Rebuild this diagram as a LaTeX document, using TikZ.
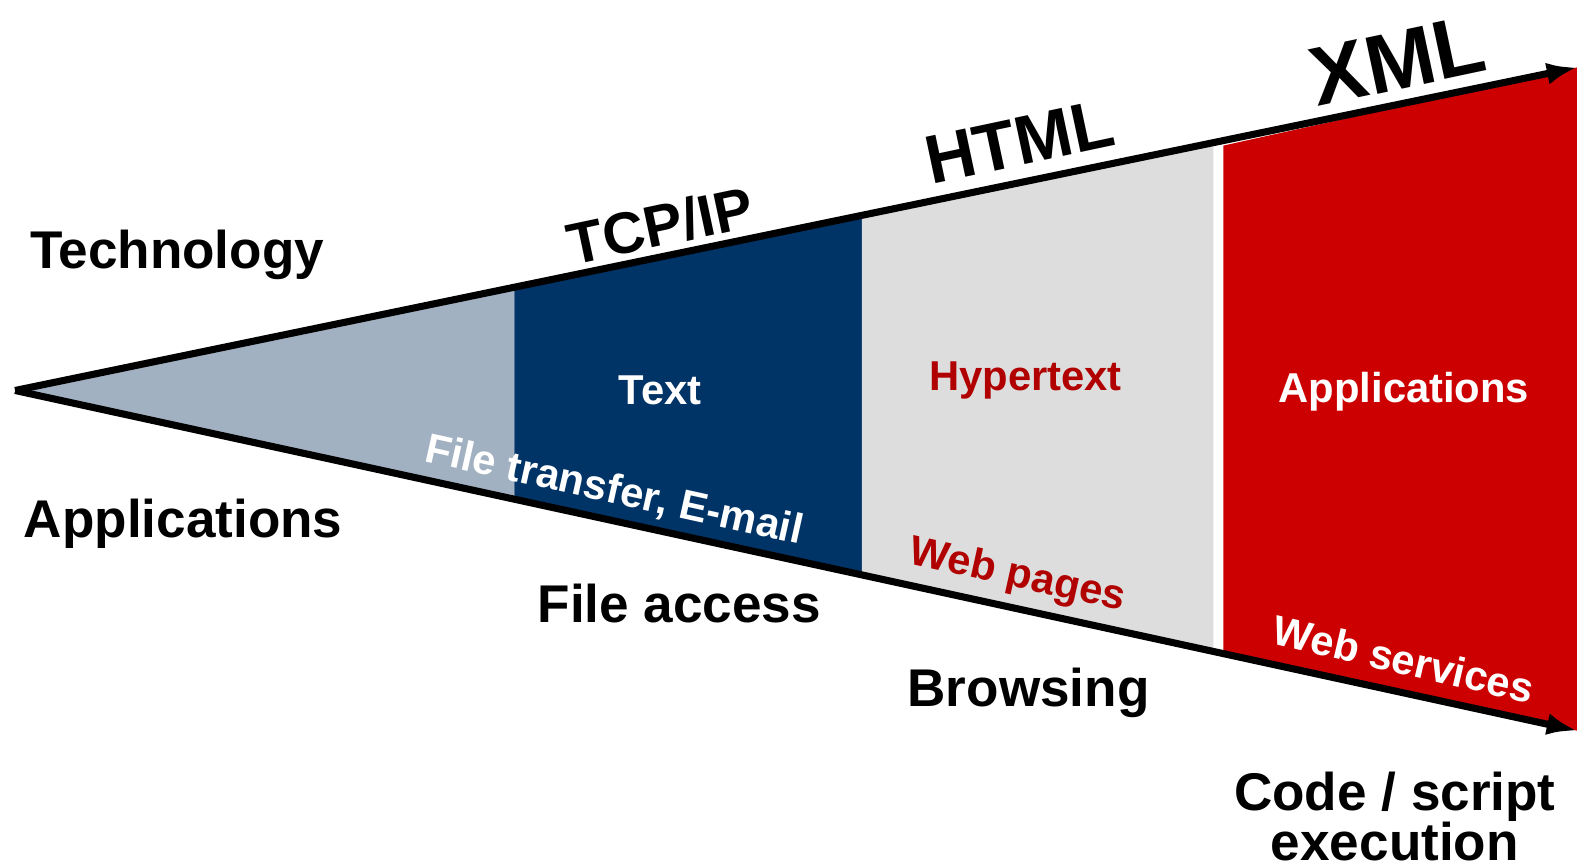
\documentclass[tikz,border=0pt]{standalone}
\usepackage{fontspec}
\setmainfont{Liberation Sans}
\usetikzlibrary{arrows.meta,calc}
\definecolor{slate}{HTML}{A2B1C2}
\definecolor{navy}{HTML}{003366}
\definecolor{paper}{HTML}{DDDDDD}
\definecolor{brick}{HTML}{CC0000}
\definecolor{wine}{HTML}{B00000}
\begin{document}
\begin{tikzpicture}[x=0.01cm,y=-0.01cm,
  axis/.style={line width=2pt,-{Latex[length=0.3cm,width=0.22cm]}},
  outer/.style={font=\fontsize{15pt}{14.2pt}\selectfont\bfseries,inner sep=0,align=center},
  inner/.style={font=\fontsize{11.8pt}{14pt}\selectfont\bfseries,inner sep=0},
  era/.style={font=\bfseries,inner sep=0,rotate=12}]
\useasboundingbox (0,0) rectangle (1568,860);

% wedge end points
\coordinate (apex) at (15,388);
\coordinate (topend) at (1567,67);
\coordinate (botend) at (1567,726);

% coloured bands between the two axes
\fill[slate] (apex) -- ($(apex)!0.3196!(topend)$) -- ($(apex)!0.3196!(botend)$) -- cycle;
\fill[navy] ($(apex)!0.3196!(topend)$) -- ($(apex)!0.5421!(topend)$)
  -- ($(apex)!0.5421!(botend)$) -- ($(apex)!0.3196!(botend)$) -- cycle;
\fill[paper] ($(apex)!0.5421!(topend)$) -- ($(apex)!0.7672!(topend)$)
  -- ($(apex)!0.7672!(botend)$) -- ($(apex)!0.5421!(botend)$) -- cycle;
\fill[brick] ($(apex)!0.7736!(topend)+(0,5)$) -- (topend) -- (botend)
  -- ($(apex)!0.7736!(botend)$) -- cycle;

% axes
\draw[axis] (apex) -- (topend);
\draw[axis] (apex) -- (botend);

% labels on the left
\node[outer] (tech) at (176,253) {Technology};
\node[outer] (apps) at (182,520) {Applications};

% technology milestones along the upper axis
\node[era,font=\fontsize{16.5pt}{18pt}\selectfont\bfseries] (tcp) at (656,224) {TCP/IP};
\node[era,font=\fontsize{19.4pt}{21pt}\selectfont\bfseries] (html) at (1013,141) {HTML};
\node[era,font=\fontsize{23.5pt}{25pt}\selectfont\bfseries] (xml) at (1389,60) {XML};

% band contents
\node[inner,white] (text) at (656,388) {Text};
\node[inner,wine] (hyper) at (1019,378) {Hypertext};
\node[inner,white] (xapps) at (1395,389) {Applications};

% applications along the lower axis
\node[inner,white,rotate=-12.5] (ftp) at (610,488) {File transfer, E-mail};
\node[inner,wine,rotate=-12.5] (web) at (1011,573) {Web pages};
\node[inner,white,rotate=-13] (ws) at (1395,655) {Web services};

% uses below the wedge
\node[outer] (access) at (675,600) {File access};
\node[outer] (browse) at (1022,688) {Browsing};
\node[outer] (code) at (1386,811) {Code / script\\execution};
\end{tikzpicture}
\end{document}
